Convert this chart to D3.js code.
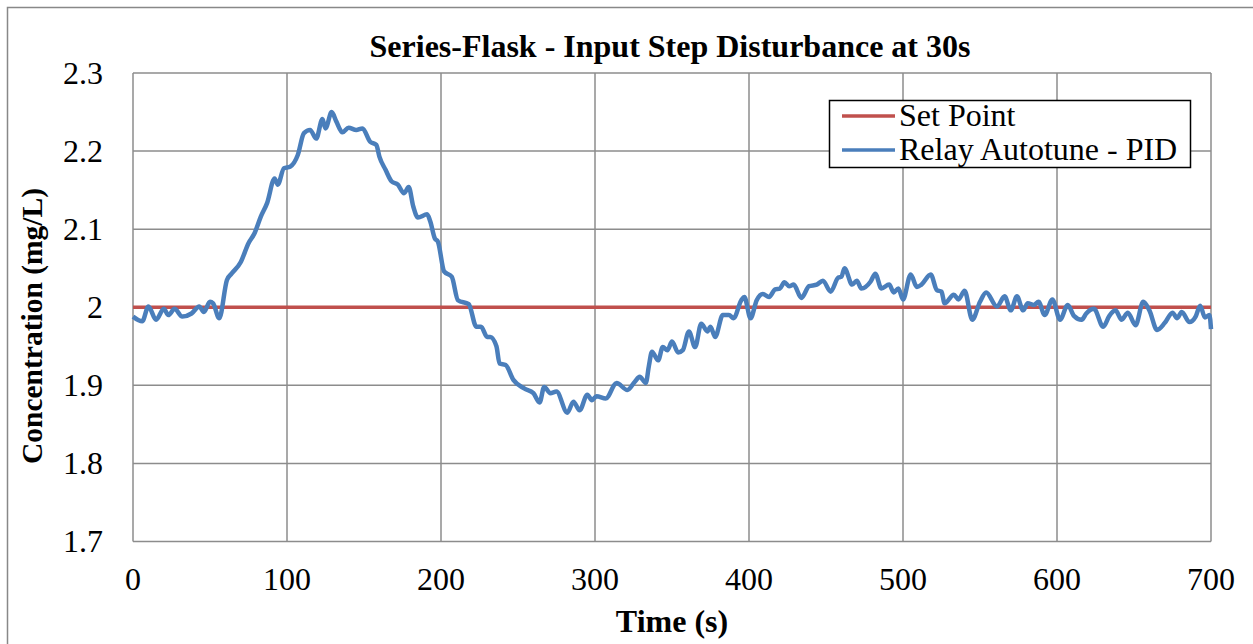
<!DOCTYPE html>
<html>
<head>
<meta charset="utf-8">
<script src="https://cdn.jsdelivr.net/npm/d3@7"></script>
<style>
  body { margin: 0; background: #fff; }
</style>
</head>
<body>
<div id="chart"></div>
<script>
// data
var xTicks = [0, 100, 200, 300, 400, 500, 600, 700];
var yTicks = [1.7, 1.8, 1.9, 2.0, 2.1, 2.2, 2.3];
var setPoint = [[0, 2.0], [700, 2.0]];
var timeS = [0, 6, 10, 15, 20, 23, 27, 32, 38, 43, 46, 50, 52, 56, 61, 64, 70, 75, 79, 83, 87, 92, 94, 98, 102, 107, 111, 115, 119, 123, 125, 129, 132, 136, 140, 145, 149, 154, 158, 160, 164, 168, 172, 176, 179, 182, 185, 191, 193, 196, 198, 202, 207, 211, 218, 223, 226, 230, 232, 236, 238, 242, 247, 254, 260, 264, 267, 271, 275, 282, 286, 290, 295, 298, 301, 307, 314, 321, 326, 329, 333, 335, 337, 341, 344, 347, 350, 354, 357, 361, 365, 369, 373, 375, 378, 383, 387, 390, 395, 397, 401, 405, 409, 413, 417, 420, 423, 426, 429, 434, 439, 444, 448, 453, 458, 460, 462, 467, 470, 473, 479, 482, 486, 491, 494, 497, 500, 505, 509, 512, 518, 522, 525, 527, 533, 536, 540, 545, 550, 554, 561, 566, 570, 574, 578, 581, 585, 588, 592, 597, 602, 607, 611, 616, 619, 624, 630, 634, 638, 642, 646, 651, 656, 660, 665, 670, 675, 678, 681, 686, 690, 693, 696, 699, 700];
var concentration = [1.988, 1.982, 2.001, 1.984, 1.998, 1.990, 1.998, 1.988, 1.992, 2.001, 1.994, 2.007, 2.005, 1.986, 2.035, 2.043, 2.058, 2.082, 2.095, 2.116, 2.133, 2.165, 2.157, 2.178, 2.180, 2.195, 2.223, 2.227, 2.216, 2.241, 2.229, 2.250, 2.238, 2.224, 2.230, 2.227, 2.229, 2.212, 2.208, 2.193, 2.176, 2.161, 2.157, 2.146, 2.154, 2.129, 2.115, 2.119, 2.110, 2.088, 2.084, 2.046, 2.039, 2.009, 2.004, 1.975, 1.975, 1.962, 1.962, 1.950, 1.928, 1.926, 1.907, 1.896, 1.890, 1.878, 1.898, 1.890, 1.892, 1.865, 1.879, 1.868, 1.888, 1.881, 1.886, 1.883, 1.903, 1.894, 1.905, 1.911, 1.903, 1.925, 1.943, 1.932, 1.949, 1.945, 1.956, 1.942, 1.945, 1.969, 1.949, 1.979, 1.969, 1.975, 1.962, 1.990, 1.990, 1.986, 2.009, 2.013, 1.986, 2.009, 2.017, 2.013, 2.023, 2.024, 2.032, 2.027, 2.029, 2.012, 2.027, 2.029, 2.034, 2.020, 2.038, 2.039, 2.050, 2.029, 2.034, 2.024, 2.033, 2.043, 2.024, 2.029, 2.019, 2.024, 2.010, 2.042, 2.026, 2.029, 2.042, 2.022, 2.020, 2.005, 2.016, 2.010, 2.021, 1.984, 2.007, 2.019, 2.001, 2.014, 1.996, 2.014, 1.996, 2.005, 2.003, 2.007, 1.990, 2.010, 1.984, 2.003, 1.989, 1.984, 1.992, 1.998, 1.975, 1.989, 1.996, 1.984, 1.993, 1.977, 2.007, 1.996, 1.971, 1.980, 1.993, 1.986, 1.994, 1.981, 1.988, 2.002, 1.987, 1.990, 1.972];

var W = 1253, H = 644;
var FONT = "'Liberation Serif', 'Times New Roman', serif";
var svg = d3.select("#chart").append("svg")
    .attr("width", W)
    .attr("height", H)
    .attr("font-family", FONT);

// outer chart border
svg.append("rect")
    .attr("x", 7.5).attr("y", 7.5)
    .attr("width", W + 20).attr("height", H + 20)
    .attr("fill", "none")
    .attr("stroke", "#888").attr("stroke-width", 1.5);

var x = d3.scaleLinear().domain([0, 700]).range([133, 1211]);
var y = d3.scaleLinear().domain([1.7, 2.3]).range([541.5, 73]);

// gridlines
svg.append("g")
  .selectAll("line.vg")
  .data(xTicks)
  .enter().append("line")
    .attr("x1", d => x(d)).attr("x2", d => x(d))
    .attr("y1", y(1.7)).attr("y2", y(2.3))
    .attr("stroke", "#8c8c8c").attr("stroke-width", 1.5);
svg.append("g")
  .selectAll("line.hg")
  .data(yTicks)
  .enter().append("line")
    .attr("x1", x(0)).attr("x2", x(700))
    .attr("y1", d => y(d)).attr("y2", d => y(d))
    .attr("stroke", "#8c8c8c").attr("stroke-width", 1.5);

// tick labels
svg.append("g")
  .selectAll("text")
  .data(yTicks)
  .enter().append("text")
    .attr("x", 103)
    .attr("y", d => y(d) + 10.5)
    .attr("text-anchor", "end")
    .attr("font-size", 32)
    .text(d => d3.format("")(+d.toFixed(1)));
svg.append("g")
  .selectAll("text")
  .data(xTicks)
  .enter().append("text")
    .attr("x", d => x(d))
    .attr("y", 590)
    .attr("text-anchor", "middle")
    .attr("font-size", 32)
    .text(d => d);

// series
var line = d3.line().x(d => x(d[0])).y(d => y(d[1])).curve(d3.curveMonotoneX);
svg.append("path")
    .datum(setPoint)
    .attr("d", line)
    .attr("fill", "none")
    .attr("stroke", "#C0504D").attr("stroke-width", 3.5);
svg.append("path")
    .datum(timeS.map((t, i) => [t, concentration[i]]))
    .attr("d", line)
    .attr("fill", "none")
    .attr("stroke", "#4A7EBB").attr("stroke-width", 4.5)
    .attr("stroke-linejoin", "round");

// titles
svg.append("text")
    .attr("x", 670).attr("y", 57)
    .attr("text-anchor", "middle")
    .attr("font-size", 32).attr("font-weight", "bold")
    .text("Series-Flask - Input Step Disturbance at 30s");
svg.append("text")
    .attr("x", 672).attr("y", 632)
    .attr("text-anchor", "middle")
    .attr("font-size", 32).attr("font-weight", "bold")
    .text("Time (s)");
svg.append("text")
    .attr("transform", "translate(42,326) rotate(-90)")
    .attr("text-anchor", "middle")
    .attr("font-size", 29.5).attr("font-weight", "bold")
    .text("Concentration (mg/L)");

// legend
var legend = svg.append("g");
legend.append("rect")
    .attr("x", 829.5).attr("y", 100.5)
    .attr("width", 361).attr("height", 67)
    .attr("fill", "#fff")
    .attr("stroke", "#000").attr("stroke-width", 1.5);
var legItems = [["Set Point", "#C0504D"], ["Relay Autotune - PID", "#4A7EBB"]];
legItems.forEach(function (d, i) {
  var ly = 116 + i * 34;
  legend.append("line")
      .attr("x1", 842).attr("x2", 895)
      .attr("y1", ly).attr("y2", ly)
      .attr("stroke", d[1]).attr("stroke-width", 3.5);
  legend.append("text")
      .attr("x", 899).attr("y", ly + 10)
      .attr("font-size", 32)
      .text(d[0]);
});
</script>
</body>
</html>
